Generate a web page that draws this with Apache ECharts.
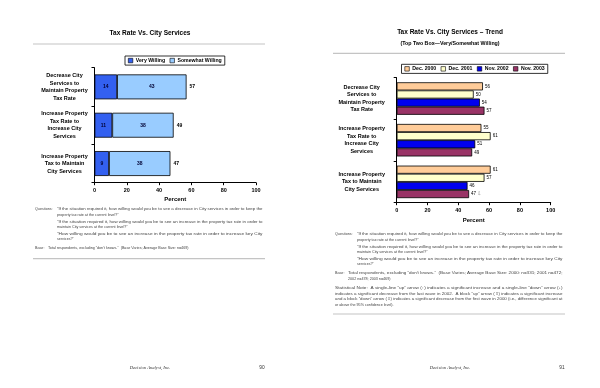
<!DOCTYPE html>
<html><head><meta charset="utf-8">
<script src="https://cdn.jsdelivr.net/npm/echarts@6/dist/echarts.min.js"></script>
<style>html,body{margin:0;padding:0;background:#fff}#c{width:600px;height:388px}</style>
</head><body><div id="c"></div>
<script>
// ---- data ----
const categories = ['Decrease City\nServices to\nMaintain Property\nTax Rate', 'Increase Property\nTax Rate to\nIncrease City\nServices', 'Increase Property\nTax to Maintain\nCity Services'];
const veryWilling = [14, 11, 9];
const somewhatWilling = [43, 38, 38];
const totalWilling = [57, 49, 47];
const trendNames = ['Dec. 2000', 'Dec. 2001', 'Nov. 2002', 'Nov. 2003'];
const dec2000 = [56, 55, 61];
const dec2001 = [50, 61, 57];
const nov2002 = [54, 51, 46];
const nov2003 = [57, 49, 47];
const nov2003Marks = ['', '', '⇩'];
const xTicks = [0, 20, 40, 60, 80, 100];

const FF = '"Liberation Sans", Arial, sans-serif';
const chart = echarts.init(document.getElementById('c'), null, {renderer: 'canvas'});

const meas = document.createElement('canvas').getContext('2d');
const NOTE = 3.7;
function tw(t, size) { meas.font = size + 'px "Liberation Sans"'; return meas.measureText(t).width; }
function note(x, y, text, right) {
  let s = 1;
  if (right) s = (right - x) / tw(text, NOTE);
  return {type: 'text', x: x, y: y, scaleX: s, scaleY: 1, originX: 0, originY: 0, silent: true,
    style: {text: text, x: 0, y: 0, fontSize: NOTE, fontFamily: FF, fill: '#444', textAlign: 'left', textVerticalAlign: 'middle'}};
}
function txt(x, y, text, size, opts) {
  return {type: 'text', x: x, y: y, silent: true, style: Object.assign({text: text, fontSize: size, fontFamily: FF, fontWeight: 'bold', fill: '#000', textAlign: 'center', textVerticalAlign: 'middle'}, opts || {})};
}
function hline(x1, x2, y) {
  return {type: 'line', silent: true, shape: {x1: x1, y1: y, x2: x2, y2: y}, style: {stroke: '#c4c4c4', lineWidth: 1.2}};
}

const Q1a = '“If the situation required it, how willing would you be to see a decrease in City services in order to keep the';
const Q1b = 'property tax rate at the current level?”';
const Q2a = '“If the situation required it, how willing would you be to see an increase in the property tax rate in order to';
const Q2b = 'maintain City services at the current level?”';
const Q3a = '“How willing would you be to see an increase in the property tax rate in order to increase key City';
const Q3b = 'services?”';

function questions(ox, oy) {
  const qx = ox + 57, qr = ox + 262.5;
  return [
    note(ox + 35, oy, 'Questions:'),
    note(qx, oy, Q1a, qr), note(qx, oy + 5.3, Q1b),
    note(qx, oy + 12.3, Q2a, qr), note(qx, oy + 17.2, Q2b),
    note(qx, oy + 24.2, Q3a, qr), note(qx, oy + 29.2, Q3b)
  ];
}

const graphic = [].concat(
  [txt(150, 33, 'Tax Rate Vs. City Services', 6.5), hline(33, 265, 44)],
  questions(0, 209.3),
  [note(35, 248.3, 'Base:'), note(48, 248.3, 'Total respondents, excluding “don\'t knows.”  (Base Varies; Average Base Size: n=469)'), hline(33, 265, 258.7)],
  [txt(150, 367.3, 'Decision Analyst, Inc.', 4.6, {fontFamily: '"Liberation Serif", serif', fontStyle: 'italic', fontWeight: 'normal', fill: '#333'}),
   txt(262, 367.3, '90', 4.8, {fontWeight: 'normal', fill: '#333'})],
  [txt(450, 32.7, 'Tax Rate Vs. City Services – Trend', 6.5), txt(450, 43.3, '(Top Two Box—Very/Somewhat Willing)', 5.3), hline(333, 565, 53.3)],
  questions(300, 234.3),
  [note(335, 273.3, 'Base:'), note(348, 273.3, 'Total respondents, excluding “don\'t knows.”  (Base Varies; Average Base Size: 2000: n=331; 2001 n=472;', 562.5),
   note(348, 278.8, '2002 n=478; 2003 n=469)'),
   note(335, 288.3, 'Statistical Note:  A single-line “up” arrow (↑) indicates a significant increase and a single-line “down” arrow (↓)', 562.5),
   note(335, 293.8, 'indicates a significant decrease from the last wave in 2002.  A block “up” arrow (⇧) indicates a significant increase', 562.5),
   note(335, 299.3, 'and a block “down” arrow (⇩) indicates a significant decrease from the first wave in 2000 (i.e., difference significant at', 562.5),
   note(335, 304.5, 'or above the 95% confidence level).'),
   hline(333, 565, 314)],
  [txt(450, 367.3, 'Decision Analyst, Inc.', 4.6, {fontFamily: '"Liberation Serif", serif', fontStyle: 'italic', fontWeight: 'normal', fill: '#333'}),
   txt(562, 367.3, '91', 4.8, {fontWeight: 'normal', fill: '#333'})]
);

const axisLine = {show: true, lineStyle: {color: '#000', width: 1}};
function xAx(g, gap) {
  return {gridIndex: g, type: 'value', min: xTicks[0], max: xTicks[xTicks.length - 1], interval: xTicks[1] - xTicks[0],
    name: 'Percent', nameLocation: 'middle', nameGap: gap, nameTextStyle: {fontSize: 6, fontWeight: 'bold', fontFamily: FF, color: '#000'},
    axisLine: axisLine, axisTick: {show: true, length: 2.5, lineStyle: {color: '#000'}}, splitLine: {show: false},
    axisLabel: {fontSize: 5.5, fontWeight: 'bold', fontFamily: FF, color: '#000', margin: 5}};
}
function yAx(g, margin) {
  return {gridIndex: g, type: 'category', inverse: true, data: categories,
    axisLine: axisLine, axisTick: {show: true, length: 3, lineStyle: {color: '#000'}},
    axisLabel: {fontSize: 5.5, fontWeight: 'bold', fontFamily: FF, color: '#000', align: 'center', margin: margin, lineHeight: 7.5}};
}
const bord = {borderColor: '#000', borderWidth: 0.8};
const inLabel = {show: true, position: 'inside', fontSize: 5, fontWeight: 'bold', fontFamily: FF, color: '#000033'};
const rLabel = {show: true, position: 'right', distance: 2, fontSize: 4.5, fontFamily: FF, color: '#000'};
const trendColors = ['#FFCC99', '#FFFFCC', '#0000EE', '#993366'];
const trendData = [dec2000, dec2001, nov2002, nov2003];

const series = [
  {name: 'Very Willing', type: 'bar', xAxisIndex: 0, yAxisIndex: 0, stack: 'a', barCategoryGap: '35%', data: veryWilling,
   itemStyle: Object.assign({color: '#3360F0'}, bord), label: inLabel},
  {name: 'Somewhat Willing', type: 'bar', xAxisIndex: 0, yAxisIndex: 0, stack: 'a', data: somewhatWilling,
   itemStyle: Object.assign({color: '#99CCFF'}, bord), label: inLabel},
  {name: 'Total', type: 'bar', xAxisIndex: 0, yAxisIndex: 0, barGap: '-100%', data: totalWilling, z: 1,
   itemStyle: {color: 'rgba(0,0,0,0)'}, label: {show: true, position: 'right', distance: 3, fontSize: 5, fontWeight: 'bold', fontFamily: FF, color: '#000'}}
];
trendNames.forEach((n, i) => {
  series.push({name: n, type: 'bar', xAxisIndex: 1, yAxisIndex: 1, barGap: '0%', barCategoryGap: '22%', data: trendData[i],
    itemStyle: Object.assign({color: trendColors[i]}, bord),
    label: Object.assign({}, rLabel, i === 3 ? {formatter: p => p.value + (nov2003Marks[p.dataIndex] ? ' {m|' + nov2003Marks[p.dataIndex] + '}' : ''), rich: {m: {fontSize: 5, color: '#888', fontFamily: '"DejaVu Sans"'}}} : {})});
});

const legendCommon = {orient: 'horizontal', itemWidth: 4.5, itemHeight: 4.5, itemGap: 4.5, padding: [2, 3], borderColor: '#000', borderWidth: 0.8,
  icon: 'rect', itemStyle: {borderColor: '#000', borderWidth: 0.6},
  textStyle: {fontSize: 5.2, fontWeight: 'bold', fontFamily: FF, color: '#000', padding: [0, 0, 0, -2]}};

chart.setOption({
  animation: false,
  backgroundColor: '#fff',
  grid: [{left: 94.5, top: 67.7, width: 161.5, height: 115}, {left: 396.7, top: 77.7, width: 154, height: 125}],
  legend: [
    Object.assign({left: 125, top: 56, data: ['Very Willing', 'Somewhat Willing']}, legendCommon),
    Object.assign({left: 401.5, top: 64.3, data: trendNames}, legendCommon)
  ],
  xAxis: [xAx(0, 13.5), xAx(1, 14.5)],
  yAxis: [yAx(0, 30), yAx(1, 35)],
  series: series,
  graphic: graphic
});
</script></body></html>
